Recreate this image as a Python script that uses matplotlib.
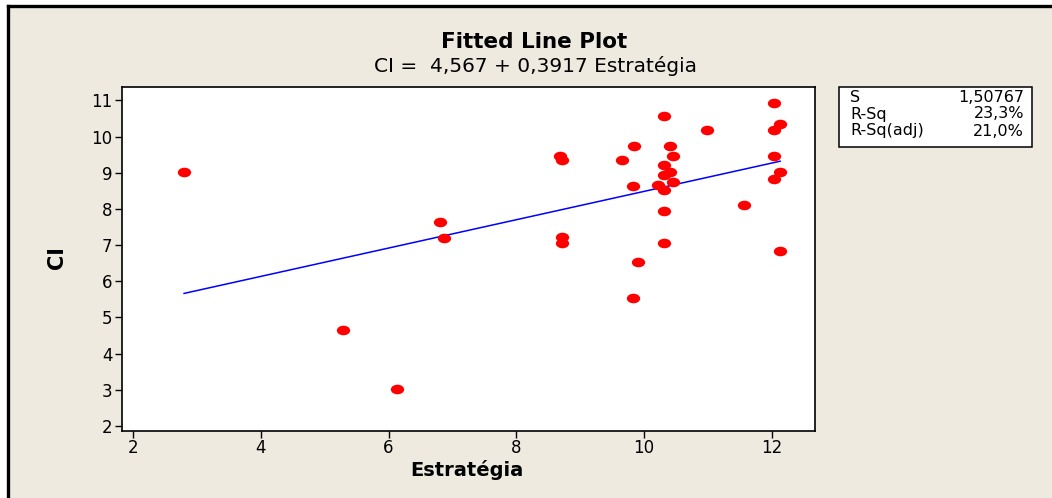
import matplotlib.pyplot as plt
import numpy as np
from matplotlib.path import Path
from matplotlib.patches import Rectangle
from matplotlib.lines import Line2D
from matplotlib.transforms import Affine2D

# data
estrategia = [2.80, 5.29, 6.13, 6.81, 6.87, 8.68, 8.72, 8.72, 8.72, 9.65,
              9.85, 9.82, 9.91, 9.82, 10.32, 10.40, 10.46, 10.32, 10.40, 10.32,
              10.22, 10.32, 10.46, 10.32, 10.32, 10.98, 11.56, 12.04, 12.13, 12.04,
              12.04, 12.13, 12.04, 12.13]
ci = [9.03, 4.65, 3.02, 7.64, 7.20, 9.47, 9.36, 7.22, 7.06, 9.36,
      9.75, 8.64, 6.52, 5.53, 10.58, 9.75, 9.46, 9.22, 9.03, 8.93,
      8.66, 8.51, 8.75, 7.94, 7.05, 10.17, 8.11, 10.92, 10.35, 10.17,
      9.47, 9.03, 8.82, 6.84]
intercept = 4.567
slope = 0.3917
stat_names = ['S', 'R-Sq', 'R-Sq(adj)']
stat_values = ['1,50767', '23,3%', '21,0%']

W, H = 1052, 498
bg = '#EEEAE0'

fig = plt.figure(figsize=(W / 100, H / 100), dpi=100, facecolor='white')

def fx(px):
    return px / W

def fy(py):
    return 1 - py / H

# beige panel with a black top/left border
fig.patches.append(Rectangle((fx(7.5), 0), 1, fy(6.5), transform=fig.transFigure,
                             facecolor=bg, edgecolor='none', zorder=-5))
fig.lines.append(Line2D([fx(7.5), 1], [fy(6.5), fy(6.5)], transform=fig.transFigure,
                        color='black', linewidth=2.4, zorder=-4))
fig.lines.append(Line2D([fx(7.5), fx(7.5)], [0, fy(6.5)], transform=fig.transFigure,
                        color='black', linewidth=2.4, zorder=-4))

ax = fig.add_axes([fx(122), fy(431), fx(815) - fx(122), fy(87) - fy(431)])
ax.set_zorder(2)
ax.set_facecolor('white')

ellipse = Path.unit_circle().transformed(Affine2D().scale(1, 0.72))
ax.plot(estrategia, ci, linestyle='none', marker=ellipse, markersize=9.6,
        color='#FF0000', markeredgewidth=0, zorder=3)

xs = np.linspace(min(estrategia), max(estrategia), 50)
ax.plot(xs, intercept + slope * xs, color='#0000FF', linewidth=1.1, zorder=2)

ax.set_xlim(1.828, 12.676)
ax.set_ylim(1.86, 11.37)
ax.set_xticks([2, 4, 6, 8, 10, 12])
ax.set_yticks(range(2, 12))
ax.tick_params(direction='out', length=5, width=1, labelsize=12)
ax.tick_params(axis='x', pad=1)
ax.tick_params(axis='y', pad=2)
for s in ax.spines.values():
    s.set_linewidth(1.2)

fig.text(fx(534), fy(42), 'Fitted Line Plot', ha='center', va='center',
         fontsize=15.5, fontweight='bold')
fig.text(fx(535), fy(66), 'CI =  4,567 + 0,3917 Estratégia', ha='center', va='center',
         fontsize=14.5)
fig.text(fx(467), fy(470), 'Estratégia', ha='center', va='center',
         fontsize=14, fontweight='bold')
fig.text(fx(57), fy(258), 'CI', ha='center', va='center', rotation=90,
         fontsize=15, fontweight='bold')

# stats box
fig.patches.append(Rectangle((fx(839), fy(147)), fx(1032) - fx(839), fy(87) - fy(147),
                             transform=fig.transFigure, facecolor='white',
                             edgecolor='black', linewidth=1.1, zorder=1))
for i, (n, v) in enumerate(zip(stat_names, stat_values)):
    y = fy(97 + i * 17)
    fig.text(fx(850), y, n, ha='left', va='center', fontsize=11.5)
    fig.text(fx(1024), y, v, ha='right', va='center', fontsize=11.5)

fig.savefig('out.png', dpi=100, facecolor='white')
